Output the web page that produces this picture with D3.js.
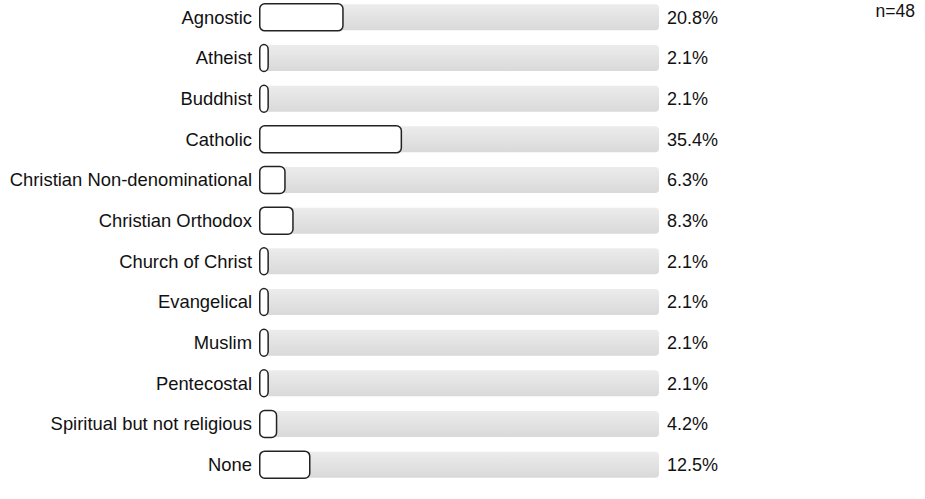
<!DOCTYPE html>
<html>
<head>
<meta charset="utf-8">
<script src="https://cdn.jsdelivr.net/npm/d3@7"></script>
<style>
  html, body { margin: 0; padding: 0; background: #fff; }
  svg { display: block; font-family: "Liberation Sans", Arial, sans-serif; }
</style>
</head>
<body>
<svg id="chart" width="925" height="499"></svg>
<script>
// Religious affiliation shares (percent of respondents)
const categories = [
  "Agnostic", "Atheist", "Buddhist", "Catholic",
  "Christian Non-denominational", "Christian Orthodox", "Church of Christ",
  "Evangelical", "Muslim", "Pentecostal", "Spiritual but not religious", "None"
];
const percentages = [20.8, 2.1, 2.1, 35.4, 6.3, 8.3, 2.1, 2.1, 2.1, 2.1, 4.2, 12.5];
const sampleLabel = "n=48";

const data = categories.map((c, i) => ({ category: c, value: percentages[i] }));

const svg = d3.select("#chart");
const left = 259, trackWidth = 400;

const x = d3.scaleLinear().domain([0, 100]).range([left, left + trackWidth]);
const y = d3.scaleBand().domain(categories).range([-3, 485]).paddingInner(0.36).paddingOuter(0.18);

// Track gradient
const defs = svg.append("defs");
const grad = defs.append("linearGradient").attr("id", "track").attr("x1", 0).attr("y1", 0).attr("x2", 0).attr("y2", 1);
grad.append("stop").attr("offset", "0%").attr("stop-color", "#ececec");
grad.append("stop").attr("offset", "100%").attr("stop-color", "#d9d9d9");

const rows = svg.selectAll("g.row").data(data).enter().append("g").attr("class", "row");

// full-width grey track
rows.append("rect")
  .attr("x", x(0))
  .attr("y", d => y(d.category))
  .attr("width", x(100) - x(0))
  .attr("height", y.bandwidth())
  .attr("rx", 4).attr("ry", 4)
  .attr("fill", "url(#track)");

// outlined value bar
rows.append("rect")
  .attr("x", x(0) + 0.75)
  .attr("y", d => y(d.category) - 0.5)
  .attr("width", d => x(d.value) - x(0))
  .attr("height", y.bandwidth() + 1)
  .attr("rx", d => Math.min(5, (x(d.value) - x(0)) / 2))
  .attr("ry", 5)
  .attr("fill", "#fff")
  .attr("stroke", "#222")
  .attr("stroke-width", 1.5);

rows.append("text")
  .attr("x", x(0) - 7)
  .attr("y", d => y(d.category) + y.bandwidth() / 2)
  .attr("dy", "0.35em")
  .attr("text-anchor", "end")
  .attr("font-size", 18.4)
  .attr("fill", "#111")
  .text(d => d.category);

rows.append("text")
  .attr("x", x(100) + 8)
  .attr("y", d => y(d.category) + y.bandwidth() / 2)
  .attr("dy", "0.35em")
  .attr("font-size", 18)
  .attr("fill", "#111")
  .text(d => d.value.toFixed(1) + "%");

svg.append("text")
  .attr("x", 915)
  .attr("y", 17)
  .attr("text-anchor", "end")
  .attr("font-size", 17.5)
  .attr("fill", "#111")
  .text(sampleLabel);
</script>
</body>
</html>
